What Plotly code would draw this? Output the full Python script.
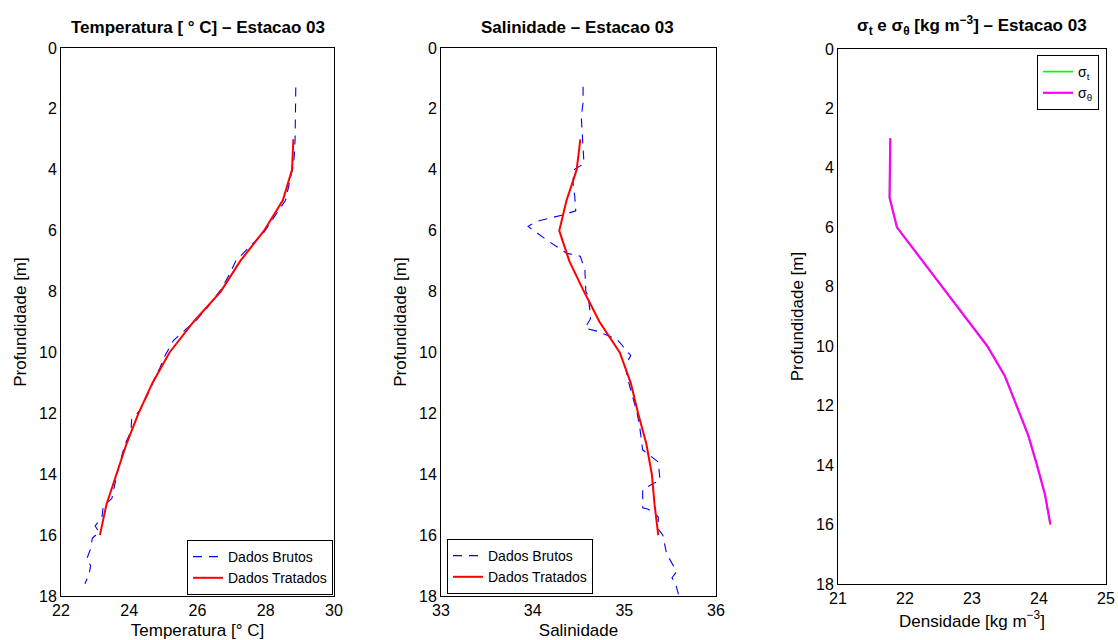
import plotly.graph_objects as go

# ---- Estacao 03: perfis verticais -------------------------------------------
# Temperatura - dados brutos (CTD)
prof_temp_bruto = [1.3, 2.0, 2.5, 3.0, 3.5, 3.9, 4.3, 4.7, 5.0, 5.3, 5.7, 6.1, 6.5,
                   6.85, 7.0, 7.4, 7.9, 8.4, 8.5, 8.9, 9.25, 9.6, 10.1, 10.5, 10.8,
                   11.2, 11.9, 12.2, 12.6, 13.0, 13.6, 14.1, 14.8, 15.05, 15.4, 15.7,
                   15.9, 16.1, 16.5, 16.8, 17.0, 17.3, 17.6]
temp_bruto = [28.88, 28.88, 28.87, 28.86, 28.84, 28.80, 28.72, 28.65, 28.58, 28.40,
              28.15, 27.92, 27.55, 27.25, 27.12, 26.95, 26.71, 26.37, 26.31, 26.00,
              25.64, 25.30, 25.05, 24.90, 24.76, 24.62, 24.32, 24.07, 24.05, 23.88,
              23.73, 23.62, 23.49, 23.24, 23.20, 23.00, 23.12, 22.92, 22.85, 22.75,
              22.87, 22.82, 22.70]

# Salinidade - dados brutos (CTD)
prof_sal_bruto = [1.27, 1.8, 2.25, 2.8, 3.3, 3.8, 4.0, 4.4, 4.9, 5.35, 5.48, 5.7, 5.86,
                  6.3, 6.74, 6.84, 7.3, 8.0, 8.1, 8.5, 8.9, 9.2, 9.3, 9.57, 10.1,
                  10.45, 10.9, 11.54, 12.0, 12.5, 13.2, 13.6, 14.2, 14.3, 14.5, 15.1,
                  15.15, 15.4, 15.8, 16.0, 16.6, 17.2, 17.4, 17.6, 17.95]
sal_bruto = [34.55, 34.55, 34.53, 34.54, 34.55, 34.56, 34.45, 34.44, 34.46, 34.47,
             34.33, 34.04, 33.95, 34.15, 34.37, 34.52, 34.57, 34.58, 34.60, 34.62,
             34.63, 34.57, 34.70, 34.92, 35.07, 35.01, 35.04, 35.10, 35.14, 35.17,
             35.20, 35.37, 35.39, 35.32, 35.20, 35.20, 35.26, 35.37, 35.37, 35.42,
             35.46, 35.57, 35.52, 35.56, 35.59]

# Dados tratados (medias por metro)
prof_tratado = [3, 4, 5, 6, 7, 8, 9, 10, 11, 12, 13, 14, 15, 16]
temp_tratado = [28.81, 28.77, 28.50, 27.95, 27.25, 26.68, 25.88, 25.18, 24.68,
                24.27, 23.92, 23.62, 23.33, 23.14]
sal_tratado = [34.52, 34.48, 34.37, 34.29, 34.40, 34.56, 34.73, 34.95, 35.07,
               35.15, 35.24, 35.30, 35.33, 35.37]

# Densidade (sigma-t e sigma-theta)
sigma_t = [21.78, 21.77, 21.77, 21.88, 22.22, 22.56, 22.90, 23.23, 23.49, 23.67,
           23.84, 23.97, 24.09, 24.17]
sigma_theta = [21.78, 21.77, 21.77, 21.88, 22.22, 22.56, 22.90, 23.23, 23.49, 23.67,
               23.84, 23.97, 24.09, 24.17]

W, H = 1118, 640
FONT = "Liberation Sans, Arial, Helvetica, sans-serif"
DASH = "9px,7px"

fig = go.Figure()

# Painel 1 - temperatura
fig.add_trace(go.Scatter(x=temp_bruto, y=prof_temp_bruto, mode="lines",
                         name="Dados Brutos", legend="legend",
                         line=dict(color="#0000ff", width=1.1, dash=DASH),
                         xaxis="x", yaxis="y"))
fig.add_trace(go.Scatter(x=temp_tratado, y=prof_tratado, mode="lines",
                         name="Dados Tratados", legend="legend",
                         line=dict(color="#ff0000", width=2),
                         xaxis="x", yaxis="y"))

# Painel 2 - salinidade
fig.add_trace(go.Scatter(x=sal_bruto, y=prof_sal_bruto, mode="lines",
                         name="Dados Brutos", legend="legend2",
                         line=dict(color="#0000ff", width=1.1, dash=DASH),
                         xaxis="x2", yaxis="y2"))
fig.add_trace(go.Scatter(x=sal_tratado, y=prof_tratado, mode="lines",
                         name="Dados Tratados", legend="legend2",
                         line=dict(color="#ff0000", width=2),
                         xaxis="x2", yaxis="y2"))

# Painel 3 - densidade (sigma-t fica por baixo de sigma-theta)
fig.add_trace(go.Scatter(x=sigma_t, y=prof_tratado, mode="lines",
                         name="σ<sub>t</sub>", legend="legend3",
                         line=dict(color="#00ff00", width=1.7),
                         xaxis="x3", yaxis="y3"))
fig.add_trace(go.Scatter(x=sigma_theta, y=prof_tratado, mode="lines",
                         name="σ<sub>θ</sub>", legend="legend3",
                         line=dict(color="#ff00ff", width=2.2),
                         xaxis="x3", yaxis="y3"))


def px_x(p):
    return p / W


def px_y(p):
    return 1 - p / H


def xaxis(dom, rng, dtick, title, anchor, standoff):
    return dict(domain=[px_x(dom[0]), px_x(dom[1])], range=rng, dtick=dtick,
                showgrid=False, zeroline=False, showline=True, mirror=True,
                linecolor="#000000", linewidth=1, ticks="", anchor=anchor,
                tickfont=dict(size=16, color="#000000", family=FONT),
                title=dict(text=title, standoff=standoff,
                           font=dict(size=17, color="#000000", family=FONT)),
                automargin=False)


def yaxis(dom, anchor):
    return dict(domain=[px_y(dom[1]), px_y(dom[0])], range=[18, 0], dtick=2,
                showgrid=False, zeroline=False, showline=True, mirror=True,
                linecolor="#000000", linewidth=1, ticks="", anchor=anchor,
                tickfont=dict(size=16, color="#000000", family=FONT),
                title=dict(text="Profundidade [m]", standoff=8,
                           font=dict(size=17, color="#000000", family=FONT)),
                automargin=False)


def legend_box(x_pos, y_pos, xanchor="right", yanchor="bottom"):
    return dict(x=px_x(x_pos), y=px_y(y_pos), xanchor=xanchor, yanchor=yanchor,
                bgcolor="#ffffff", bordercolor="#000000", borderwidth=1,
                font=dict(size=14, color="#000000", family=FONT),
                tracegroupgap=0, itemwidth=30)


def titulo(text, x, y):
    return dict(text=text, x=px_x(x), y=px_y(y), xref="paper", yref="paper",
                xanchor="center", yanchor="middle", showarrow=False,
                font=dict(size=17, family=FONT, color="#000000"))


fig.update_layout(
    width=W, height=H,
    margin=dict(l=0, r=0, t=0, b=0),
    paper_bgcolor="#ffffff", plot_bgcolor="#ffffff",
    font=dict(family=FONT, color="#000000"),
    xaxis=xaxis((61, 334), [22, 30], 2, "Temperatura [° C]", "y", 18),
    yaxis=yaxis((48, 596), "x"),
    xaxis2=xaxis((441, 716), [33, 36], 1, "Salinidade", "y2", 18),
    yaxis2=yaxis((48, 596), "x2"),
    xaxis3=xaxis((838, 1106), [21, 25], 1, "Densidade [kg m<sup>−3</sup>]", "y3", 8),
    yaxis3=yaxis((49, 584), "x3"),
    legend=legend_box(333, 595),
    legend2=legend_box(447, 594, xanchor="left"),
    legend3=legend_box(1099, 55, yanchor="top"),
    showlegend=True,
    annotations=[
        titulo("<b>Temperatura [ ° C] – Estacao 03</b>", 198, 28),
        titulo("<b>Salinidade – Estacao 03</b>", 578, 28),
        titulo("<b>σ<sub>t</sub> e σ<sub>θ</sub> [kg m<sup>−3</sup>] – Estacao 03</b>",
               972, 25),
    ],
)

fig.write_html("out.html")
